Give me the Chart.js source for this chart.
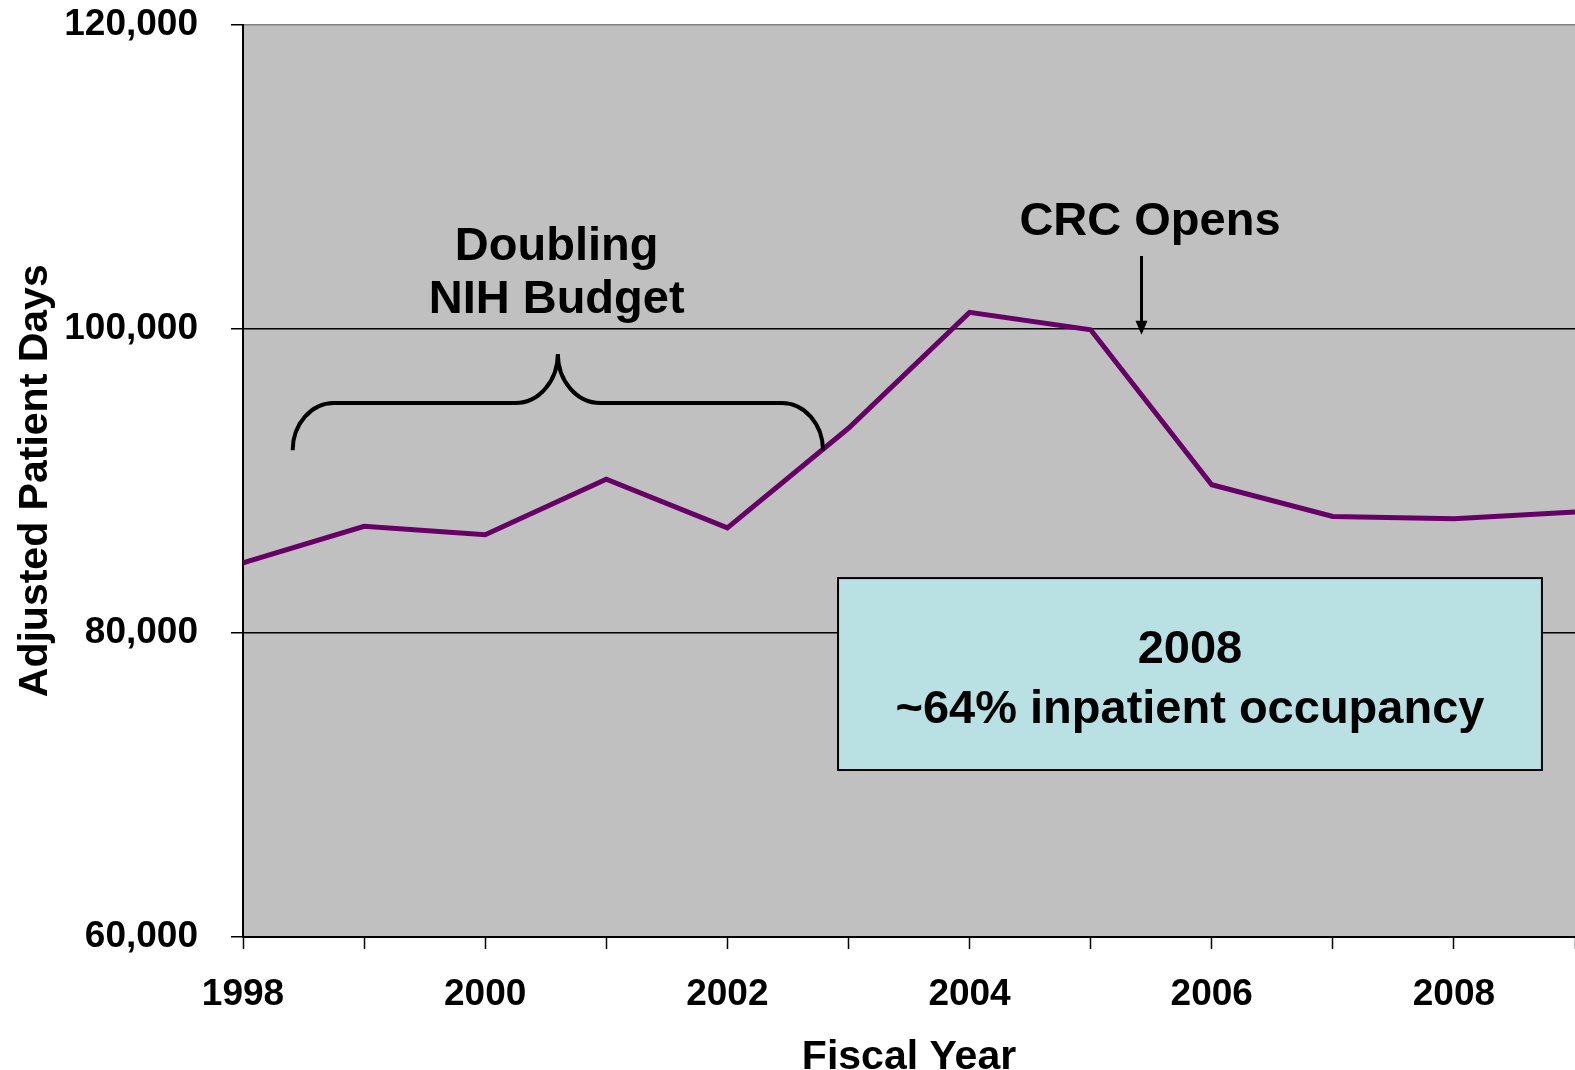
<!DOCTYPE html>
<html>
<head>
<meta charset="utf-8">
<script src="https://cdn.jsdelivr.net/npm/chart.js@4"></script>
<style>
  html, body { margin: 0; padding: 0; background: #fff; overflow: hidden; }
  #wrap { width: 1575px; height: 1070px; }
</style>
</head>
<body>
<div id="wrap"><canvas id="miCanva"></canvas></div>
<script>
// datos
const years = [1998, 1999, 2000, 2001, 2002, 2003, 2004, 2005, 2006, 2007, 2008, 2009];
const patientDays = [84600, 87000, 86450, 90100, 86900, 93450, 101070, 99930, 89740, 87650, 87500, 87940];
const yTicks = [60000, 80000, 100000, 120000];
const xLabelYears = [1998, 2000, 2002, 2004, 2006, 2008];

const FONT = "'Liberation Sans', Arial, sans-serif";
Chart.defaults.font.family = FONT;
Chart.defaults.font.weight = 'bold';
Chart.defaults.color = '#000';

const puntos = years.map((y, i) => ({ x: y, y: patientDays[i] }));

// fondo gris del area de trazado
const fondo = {
  id: 'fondo',
  beforeDraw(chart) {
    const { ctx, chartArea: a } = chart;
    ctx.save();
    ctx.fillStyle = '#c0c0c0';
    ctx.fillRect(a.left, a.top, a.right - a.left, a.bottom - a.top);
    ctx.restore();
  }
};

// llave, flecha, textos y recuadro
const notas = {
  id: 'notas',
  afterDatasetsDraw(chart) {
    const { ctx } = chart;
    const X = v => chart.scales.x.getPixelForValue(v);
    const Y = v => chart.scales.y.getPixelForValue(v);
    const k = 0.55;
    ctx.save();

    // llave "Doubling NIH Budget"
    const x0 = X(1998.41), x1 = X(1998.75), xa = X(2000.25), xt = X(2000.60);
    const xb = X(2000.95), x2 = X(2002.45), x3 = X(2002.79);
    const yEnd = Y(92000), yH = Y(95110), yT = Y(98330);
    ctx.strokeStyle = '#000';
    ctx.lineWidth = 4;
    ctx.beginPath();
    ctx.moveTo(x0, yEnd);
    ctx.bezierCurveTo(x0, yEnd - k * (yEnd - yH), x1 - k * (x1 - x0), yH, x1, yH);
    ctx.lineTo(xa, yH);
    ctx.bezierCurveTo(xa + k * (xt - xa), yH, xt, yT + k * (yH - yT), xt, yT);
    ctx.bezierCurveTo(xt, yT + k * (yH - yT), xb - k * (xb - xt), yH, xb, yH);
    ctx.lineTo(x2, yH);
    ctx.bezierCurveTo(x2 + k * (x3 - x2), yH, x3, yEnd - k * (yEnd - yH), x3, yEnd);
    ctx.stroke();

    ctx.fillStyle = '#000';
    ctx.textAlign = 'center';
    ctx.textBaseline = 'alphabetic';
    ctx.font = "bold 47px " + FONT;
    ctx.fillText('Doubling', X(2000.59), Y(104520));
    ctx.fillText('NIH Budget', X(2000.59), Y(101030));

    // flecha "CRC Opens"
    ctx.fillText('CRC Opens', X(2005.49), Y(106160));
    const xf = X(2005.42), yf0 = Y(104780), yf1 = Y(99600);
    ctx.lineWidth = 3;
    ctx.beginPath();
    ctx.moveTo(xf, yf0);
    ctx.lineTo(xf, yf1 - 12);
    ctx.stroke();
    ctx.beginPath();
    ctx.moveTo(xf - 6, yf1 - 14);
    ctx.lineTo(xf + 6, yf1 - 14);
    ctx.lineTo(xf, yf1);
    ctx.closePath();
    ctx.fill();

    // recuadro 2008
    const bx0 = X(2002.914), bx1 = X(2008.727), by0 = Y(83600), by1 = Y(70980);
    ctx.fillStyle = '#b9e0e3';
    ctx.fillRect(bx0, by0, bx1 - bx0, by1 - by0);
    ctx.lineWidth = 2;
    ctx.strokeStyle = '#000';
    ctx.strokeRect(bx0, by0, bx1 - bx0, by1 - by0);
    ctx.fillStyle = '#000';
    ctx.fillText('2008', X(2005.82), Y(78020));
    ctx.fillText('~64% inpatient occupancy', X(2005.82), Y(74070));
    ctx.restore();
  }
};

new Chart(document.getElementById('miCanva'), {
  type: 'line',
  data: {
    datasets: [{
      label: 'Adjusted Patient Days',
      data: puntos,
      borderColor: '#660066',
      borderWidth: 5,
      pointRadius: 0,
      tension: 0,
      fill: false
    }]
  },
  options: {
    responsive: true,
    maintainAspectRatio: false,
    animation: false,
    layout: { padding: { top: 24.5, right: 0, bottom: 0, left: 0 } },
    plugins: {
      legend: { display: false },
      tooltip: { enabled: false }
    },
    scales: {
      x: {
        type: 'linear',
        min: years[0],
        max: years[years.length - 1],
        afterBuildTicks: s => { s.ticks = years.map(v => ({ value: v })); },
        afterFit: s => { s.height = 133; s.paddingLeft = 0; s.paddingRight = 0; },
        ticks: {
          autoSkip: false,
          maxRotation: 0,
          padding: 24,
          font: { size: 37, weight: 'bold' },
          callback: v => xLabelYears.includes(v) ? String(v) : ''
        },
        grid: {
          drawOnChartArea: false,
          drawTicks: true,
          tickLength: 12,
          tickColor: '#000',
          tickWidth: 1.5
        },
        border: { color: '#000', width: 2 },
        title: {
          display: true,
          text: 'Fiscal Year',
          font: { size: 41, weight: 'bold', lineHeight: 1 },
          padding: { top: 0, bottom: -8 }
        }
      },
      y: {
        min: yTicks[0],
        max: yTicks[yTicks.length - 1],
        afterBuildTicks: s => { s.ticks = yTicks.map(v => ({ value: v })); },
        afterFit: s => { s.width = 243; s.paddingTop = 0; s.paddingBottom = 0; },
        ticks: {
          padding: 33,
          font: { size: 37, weight: 'bold' },
          callback: v => v.toLocaleString('en-US')
        },
        grid: {
          color: c => (c.tick && c.tick.value === yTicks[yTicks.length - 1]) ? '#808080' : '#000',
          lineWidth: 1.5,
          tickLength: 12,
          tickColor: '#000',
          tickWidth: 1.5
        },
        border: { color: '#000', width: 2 },
        title: {
          display: true,
          text: 'Adjusted Patient Days',
          font: { size: 41, weight: 'bold', lineHeight: 1.2 },
          padding: { top: 11, bottom: 0 }
        }
      }
    }
  },
  plugins: [fondo, notas]
});
</script>
</body>
</html>
